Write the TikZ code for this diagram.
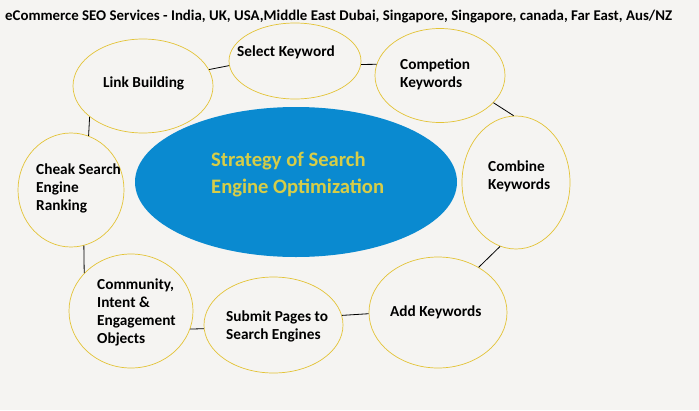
\documentclass[tikz,border=0pt]{standalone}
\usepackage{fontspec}
\setmainfont{Carlito}
\usetikzlibrary{shapes.geometric}
\definecolor{bg}{HTML}{F5F4F2}
\definecolor{ring}{HTML}{E3C336}
\definecolor{centerblue}{HTML}{0A8AD0}
\definecolor{centertext}{HTML}{D6CD48}
\tikzset{
  stepell/.style={ellipse, draw=ring, line width=0.7pt, fill=bg, inner sep=0pt},
  steptext/.style={anchor=west, align=left, font=\bfseries\fontsize{15.3}{18}\selectfont, text=black, inner sep=0pt},
  link/.style={draw=black, line width=0.8pt}
}
\begin{document}
\begin{tikzpicture}[x=1pt,y=-1pt]
\useasboundingbox (0,0) rectangle (699,410);
\fill[bg] (0,0) rectangle (699,410);
\node[anchor=west, inner sep=0pt, font=\bfseries\fontsize{14.85}{17}\selectfont] (title) at (5,17) {eCommerce SEO Services - India, UK, USA,Middle East Dubai, Singapore, Singapore, canada, Far East, Aus/NZ};

\node[ellipse, fill=centerblue, inner sep=0pt, minimum width=322pt, minimum height=150pt] (core) at (296,182) {};
\node[anchor=west, align=left, inner sep=0pt, text=centertext, font=\bfseries\fontsize{20.6}{27}\selectfont] (coretext) at (211,174.5) {Strategy of Search\\Engine Optimization};

\node[stepell, minimum width=132pt, minimum height=76pt] (sk) at (295,61) {};
\node[stepell, minimum width=130pt, minimum height=94pt] (ck) at (440,75.5) {};
\node[stepell, minimum width=140pt, minimum height=94pt] (lb) at (143,86) {};
\node[stepell, minimum width=106pt, minimum height=114pt] (cs) at (71,190) {};
\node[stepell, minimum width=108pt, minimum height=133pt] (cb) at (516,182.5) {};
\node[stepell, minimum width=138pt, minimum height=111pt] (ak) at (438,312.5) {};
\node[stepell, minimum width=139pt, minimum height=96pt] (sp) at (273.5,325) {};
\node[stepell, minimum width=124pt, minimum height=114pt] (co) at (131,311) {};

\node[steptext] (sktext) at (237,52) {Select Keyword};
\node[steptext] (cktext) at (400,74.5) {Competion\\Keywords};
\node[steptext] (lbtext) at (103,83) {Link Building};
\node[steptext] (cstext) at (36,188) {Cheak Search\\Engine\\Ranking};
\node[steptext] (cbtext) at (488,176) {Combine\\Keywords};
\node[steptext] (aktext) at (390,312) {Add Keywords};
\node[steptext] (sptext) at (226,326) {Submit Pages to\\Search Engines};
\node[steptext] (cotext) at (97,312.5) {Community,\\Intent \&\\Engagement\\Objects};

\draw[link] (lb.14.4) -- (sk.184.3);
\draw[link] (sk.357.4) -- (ck.170.3);
\draw[link] (ck.333.4) -- (cb.92.6);
\draw[link] (cb.256.3) -- (ak.48.7);
\draw[link] (ak.181.7) -- (sp.8.2);
\draw[link] (sp.183.3) -- (co.343);
\draw[link] (co.141.8) -- (cs.283.3);
\draw[link] (cs.72.2) -- (lb.210.5);
\end{tikzpicture}
\end{document}
